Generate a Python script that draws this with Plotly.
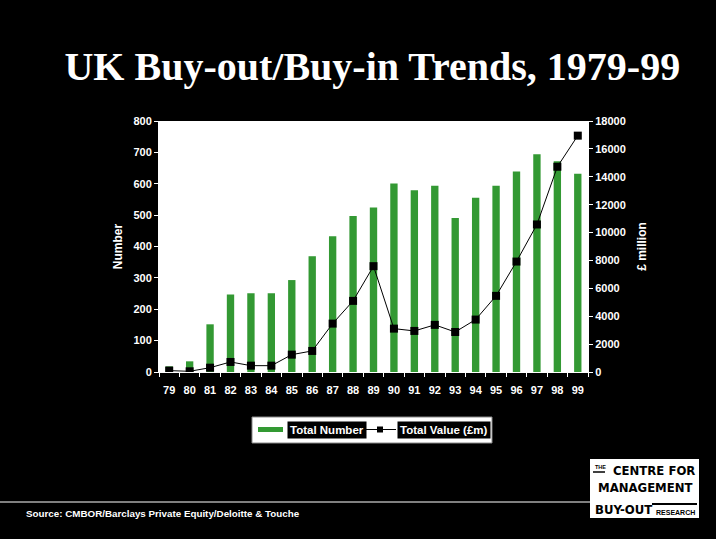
import plotly.graph_objects as go

# UK buy-out / buy-in market, 1979-99
years = ["79", "80", "81", "82", "83", "84", "85", "86", "87", "88", "89",
         "90", "91", "92", "93", "94", "95", "96", "97", "98", "99"]
total_number = [18, 34, 152, 247, 251, 251, 293, 369, 433, 497, 524,
                601, 579, 594, 491, 555, 594, 639, 694, 672, 632]
total_value = [100, 50, 310, 720, 455, 455, 1245, 1510, 3470, 5100, 7590,
               3110, 2945, 3380, 2870, 3760, 5460, 7920, 10580, 14720, 16950]

left_ticks = list(range(0, 801, 100))
right_ticks = list(range(0, 18001, 2000))

W, H = 716, 539
PL, PR, PT, PB = 159, 588, 121, 372  # plot area in pixels


def px(x):
    return (x - PL) / (PR - PL)


def py(y):
    return (PB - y) / (PB - PT)


GREEN = "#339933"
SANS = "Liberation Sans, Arial, sans-serif"
TICK_FONT = dict(family=SANS, size=11, color="white", weight="bold")

fig = go.Figure()
fig.add_trace(go.Bar(
    x=years, y=total_number, name="Total Number",
    marker=dict(color=GREEN, line=dict(width=0)),
    yaxis="y", showlegend=False,
))
fig.add_trace(go.Scatter(
    x=years, y=total_value, name="Total Value (£m)",
    mode="lines+markers",
    line=dict(color="black", width=1),
    marker=dict(symbol="square", size=8, color="black"),
    yaxis="y2", showlegend=False,
))

fig.update_layout(
    width=W, height=H,
    margin=dict(l=PL, r=W - PR, t=PT, b=H - PB, pad=0),
    paper_bgcolor="black", plot_bgcolor="white",
    bargap=0.64,
    xaxis=dict(
        type="category", range=[-0.5, len(years) - 0.5],
        tickson="boundaries", ticks="outside", ticklen=4,
        tickcolor="white", showline=True, linecolor="white", linewidth=1,
        showgrid=False, tickfont=TICK_FONT, tickangle=0, zeroline=False,
        ticklabelstandoff=8,
    ),
    yaxis=dict(
        range=[0, 800], tickvals=left_ticks, ticks="outside", ticklen=4,
        tickcolor="white", showline=True, linecolor="white", showgrid=False,
        zeroline=False, tickfont=TICK_FONT,
        title=dict(text="Number", font=dict(TICK_FONT, size=12), standoff=8),
    ),
    yaxis2=dict(
        range=[0, 18000], tickvals=right_ticks, tickformat="d",
        overlaying="y", side="right",
        ticks="outside", ticklen=4, tickcolor="white", showline=True,
        linecolor="white", showgrid=False, zeroline=False, tickfont=TICK_FONT,
        title=dict(text="£ million", font=dict(TICK_FONT, size=12), standoff=12),
    ),
    title=dict(
        text="<b>UK Buy-out/Buy-in Trends, 1979-99</b>",
        font=dict(family="Liberation Serif, Times New Roman, serif", size=40, color="white"),
        x=0.52, xanchor="center", y=1 - 66 / H, yanchor="middle",
    ),
)

shapes = []
annotations = []

# legend box
shapes.append(dict(type="rect", xref="paper", yref="paper",
                   x0=px(252), x1=px(492), y0=py(417), y1=py(443),
                   fillcolor="white", line=dict(color="#888888", width=1), layer="above"))
shapes.append(dict(type="rect", xref="paper", yref="paper",
                   x0=px(258), x1=px(283), y0=py(427), y1=py(432),
                   fillcolor=GREEN, line=dict(width=0), layer="above"))
shapes.append(dict(type="line", xref="paper", yref="paper",
                   x0=px(366), x1=px(396), y0=py(429.5), y1=py(429.5),
                   line=dict(color="black", width=1), layer="above"))
shapes.append(dict(type="rect", xref="paper", yref="paper",
                   x0=px(377), x1=px(383), y0=py(426.5), y1=py(432.5),
                   fillcolor="black", line=dict(width=0), layer="above"))
LEG_FONT = dict(family=SANS, size=11.5, color="white", weight="bold")
annotations.append(dict(text="Total Number", xref="paper", yref="paper",
                        x=px(287), y=py(429.5), xanchor="left", yanchor="middle",
                        showarrow=False, font=LEG_FONT, bgcolor="black", borderpad=2))
annotations.append(dict(text="Total Value (£m)", xref="paper", yref="paper",
                        x=px(397), y=py(429.5), xanchor="left", yanchor="middle",
                        showarrow=False, font=LEG_FONT, bgcolor="black", borderpad=2))

# footer rule and source note
shapes.append(dict(type="line", xref="paper", yref="paper",
                   x0=px(0), x1=px(592), y0=py(502), y1=py(502),
                   line=dict(color="white", width=1)))
annotations.append(dict(text="Source: CMBOR/Barclays Private Equity/Deloitte & Touche",
                        xref="paper", yref="paper", x=px(24), y=py(513),
                        xanchor="left", yanchor="middle", showarrow=False,
                        font=dict(family=SANS, size=9.8, color="white", weight="bold")))

# CMBOR logo block
shapes.append(dict(type="rect", xref="paper", yref="paper",
                   x0=px(590), x1=px(699), y0=py(459), y1=py(518),
                   fillcolor="white", line=dict(width=0)))
LOGO = "DejaVu Sans Condensed, Liberation Sans, Arial, sans-serif"
annotations.append(dict(text="THE", xref="paper", yref="paper", x=px(593), y=py(467),
                        xanchor="left", yanchor="middle", showarrow=False,
                        font=dict(family=SANS, size=5.5, color="black", weight="bold")))
shapes.append(dict(type="line", xref="paper", yref="paper",
                   x0=px(593), x1=px(605), y0=py(472), y1=py(472),
                   line=dict(color="black", width=1.5)))
annotations.append(dict(text="CENTRE FOR", xref="paper", yref="paper", x=px(697), y=py(470.5),
                        xanchor="right", yanchor="middle", showarrow=False,
                        font=dict(family=LOGO, size=13, color="black", weight="bold")))
annotations.append(dict(text="MANAGEMENT", xref="paper", yref="paper", x=px(645), y=py(487.5),
                        xanchor="center", yanchor="middle", showarrow=False,
                        font=dict(family=LOGO, size=13, color="black", weight="bold")))
annotations.append(dict(text="BUY-OUT", xref="paper", yref="paper", x=px(593), y=py(509.5),
                        xanchor="left", yanchor="middle", showarrow=False,
                        font=dict(family=LOGO, size=13, color="black", weight="bold")))
shapes.append(dict(type="line", xref="paper", yref="paper",
                   x0=px(652), x1=px(697), y0=py(504), y1=py(504),
                   line=dict(color="black", width=2)))
annotations.append(dict(text="RESEARCH", xref="paper", yref="paper", x=px(697), y=py(512),
                        xanchor="right", yanchor="middle", showarrow=False,
                        font=dict(family=SANS, size=7, color="black", weight="bold")))

fig.update_layout(shapes=shapes, annotations=annotations)
fig.write_html("out.html")
